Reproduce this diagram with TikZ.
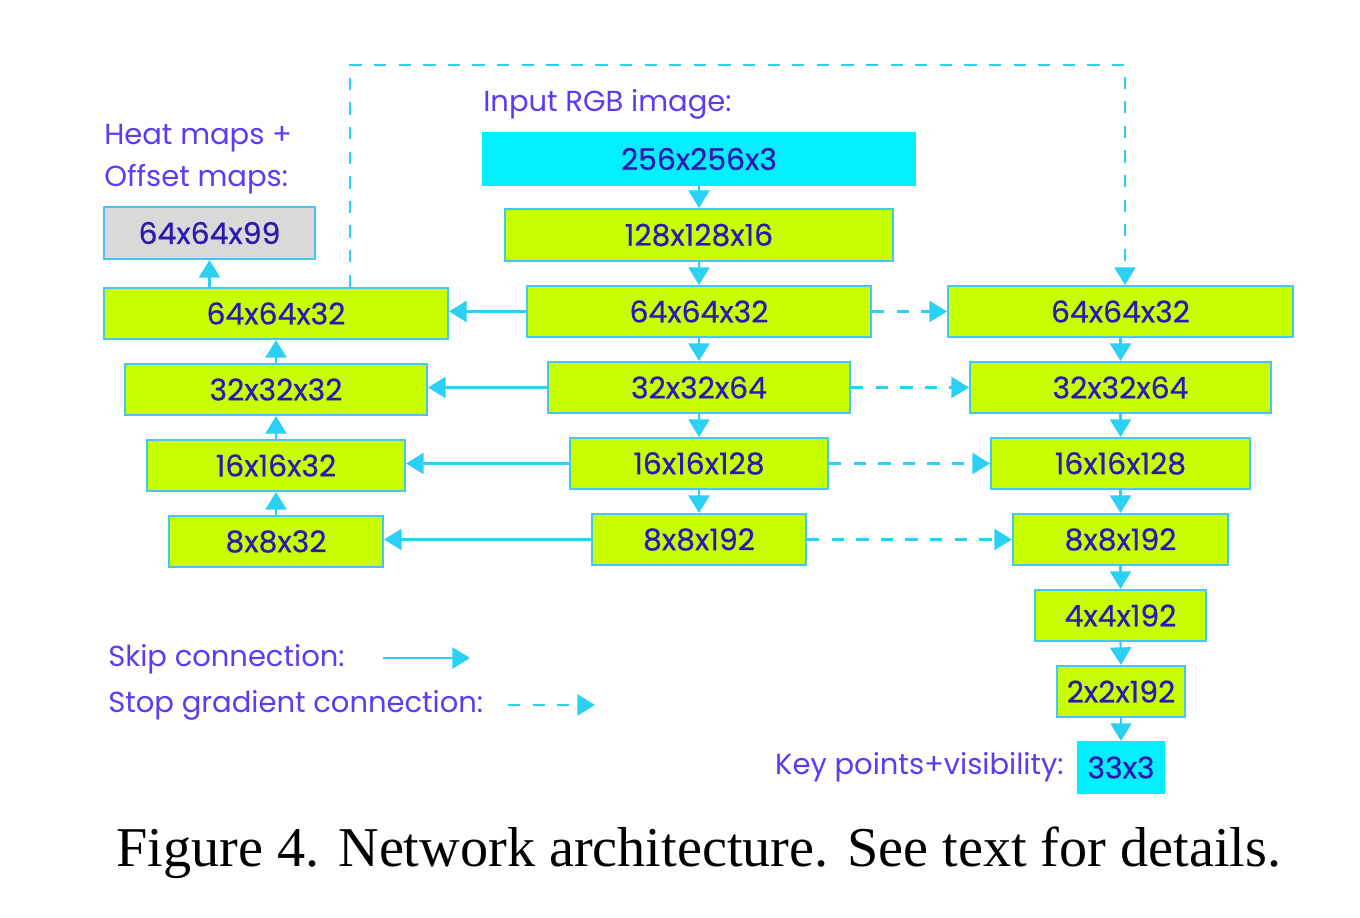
\documentclass[tikz,border=0pt]{standalone}
\usepackage{fontspec}
\setmainfont{Liberation Serif}
\newfontfamily\diagfont{Poppins}
\newfontfamily\boxfont{Poppins}[FakeBold=0.5]
\usetikzlibrary{arrows.meta}
\definecolor{lime}{HTML}{C8FF00}
\definecolor{cyanbox}{HTML}{00F0FF}
\definecolor{edgec}{HTML}{45C8F0}
\definecolor{grayb}{HTML}{D9D9D9}
\definecolor{boxtxt}{HTML}{2A1AB0}
\definecolor{labtxt}{HTML}{5A3CF5}
\definecolor{arrc}{HTML}{2BD0F5}
\tikzset{
  blk/.style={draw=edgec, line width=1.2pt, fill=lime, inner sep=0pt, text=boxtxt,
    font=\boxfont\fontsize{17}{20}\selectfont, minimum height=51*0.02cm},
  cyb/.style={blk, fill=cyanbox, draw=cyanbox},
  gyb/.style={blk, fill=grayb},
  lab/.style={text=labtxt, font=\diagfont\fontsize{16.5}{20}\selectfont, inner sep=0pt},
  arr/.style={draw=arrc, line width=1.2pt, -{Triangle[width=12pt,length=10pt]}},
  darr/.style={arr, dash pattern=on 7pt off 7pt},
}
\begin{document}
\begin{tikzpicture}[x=0.02cm,y=-0.02cm]
\useasboundingbox (0,0) rectangle (1360,918);
% middle column
\node[cyb, minimum width=432*0.02cm, minimum height=52*0.02cm] (in) at (699,159) {256x256x3};
\node[blk, minimum width=388*0.02cm, minimum height=52*0.02cm] (c1) at (699,235) {128x128x16};
\node[blk, minimum width=344*0.02cm] (c2) at (699,311.5) {64x64x32};
\node[blk, minimum width=302*0.02cm] (c3) at (699,387.5) {32x32x64};
\node[blk, minimum width=258*0.02cm] (c4) at (699,463.5) {16x16x128};
\node[blk, minimum width=214*0.02cm] (c5) at (699,539.5) {8x8x192};
% right column
\node[blk, minimum width=345*0.02cm] (r2) at (1120.5,311.5) {64x64x32};
\node[blk, minimum width=301*0.02cm] (r3) at (1120.5,387.5) {32x32x64};
\node[blk, minimum width=259*0.02cm] (r4) at (1120.5,463.5) {16x16x128};
\node[blk, minimum width=215*0.02cm] (r5) at (1120.5,539.5) {8x8x192};
\node[blk, minimum width=171*0.02cm] (r6) at (1120.5,615.5) {4x4x192};
\node[blk, minimum width=128*0.02cm] (r7) at (1121,691.5) {2x2x192};
\node[cyb, minimum width=86*0.02cm] (out) at (1121,767.5) {33x3};
% left column
\node[blk, minimum width=344*0.02cm] (l2) at (276,313.5) {64x64x32};
\node[blk, minimum width=302*0.02cm] (l3) at (276,389.5) {32x32x32};
\node[blk, minimum width=258*0.02cm] (l4) at (276,465.5) {16x16x32};
\node[blk, minimum width=214*0.02cm] (l5) at (276,541.5) {8x8x32};
\node[gyb, minimum width=211*0.02cm, minimum height=52*0.02cm] (hm) at (209.5,233) {64x64x99};
% labels
\node[lab, anchor=west] (tin) at (483,104) {Input RGB image:};
\node[lab, anchor=west] (th1) at (104,138) {Heat maps +};
\node[lab, anchor=west] (th2) at (104,179) {Offset maps:};
\node[lab, anchor=east] (tkp) at (1064,767) {Key points+visibility:};
\node[lab, anchor=west] (tsk) at (108,659) {Skip connection:};
\node[lab, anchor=west] (tsg) at (108,705) {Stop gradient connection:};
% vertical arrows
\draw[arr] (in.south) -- (c1.north);
\draw[arr] (c1.south) -- (c2.north);
\draw[arr] (c2.south) -- (c3.north);
\draw[arr] (c3.south) -- (c4.north);
\draw[arr] (c4.south) -- (c5.north);
\draw[arr] (r2.south) -- (r3.north);
\draw[arr] (r3.south) -- (r4.north);
\draw[arr] (r4.south) -- (r5.north);
\draw[arr] (r5.south) -- (r6.north);
\draw[arr] (r6.south) -- (r7.north);
\draw[arr] (r7.south) -- (out.north);
\draw[arr] (l5.north) -- (l4.south);
\draw[arr] (l4.north) -- (l3.south);
\draw[arr] (l3.north) -- (l2.south);
\draw[arr] (hm.south |- l2.north) -- (hm.south);
% skip connections
\draw[arr] (c2.west) -- (c2.west -| l2.east);
\draw[arr] (c3.west) -- (c3.west -| l3.east);
\draw[arr] (c4.west) -- (c4.west -| l4.east);
\draw[arr] (c5.west) -- (c5.west -| l5.east);
% stop gradient connections
\draw[darr] (c2.east) -- (r2.west);
\draw[darr] (c3.east) -- (r3.west);
\draw[darr] (c4.east) -- (r4.west);
\draw[darr] (c5.east) -- (r5.west);
\coordinate (tl) at (350,65);
\coordinate (tr) at (1125,65);
\draw[darr] (l2.north -| tl) -- (tl) -- (tr) -- (r2.north -| tr);
% legend
\coordinate (sk1) at (383,658);
\coordinate (sk2) at (470,658);
\coordinate (sg1) at (508,705);
\coordinate (sg2) at (595,705);
\draw[arr] (sk1) -- (sk2);
\draw[darr] (sg1) -- (sg2);
% caption
\node[font=\fontsize{32}{38}\selectfont, inner sep=0pt] (cap) at (699,853) {Figure 4. Network architecture. See text for details.};
\end{tikzpicture}
\end{document}
